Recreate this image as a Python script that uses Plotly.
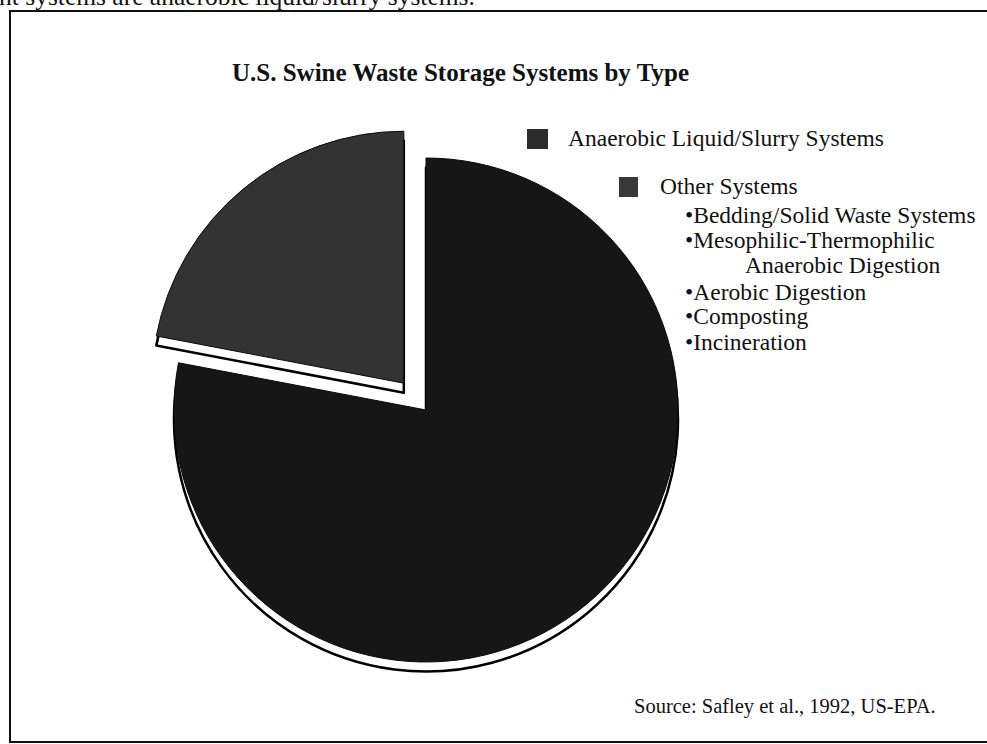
import plotly.graph_objects as go

# ---- data ----
categories = ["Anaerobic Liquid/Slurry Systems", "Other Systems"]
shares = [78, 22]
pull_out = [0, 0.138]
slice_colors = ["#161616", "#333333"]
other_items = ["•Bedding/Solid Waste Systems", "•Mesophilic-Thermophilic",
               "Anaerobic Digestion", "•Aerobic Digestion", "•Composting", "•Incineration"]
title_text = "U.S. Swine Waste Storage Systems by Type"
source_text = "Source: Safley et al., 1992, US-EPA."
top_text = "nt systems are anaerobic liquid/slurry systems."

W, H = 987, 744
SERIF = "Liberation Serif, Times New Roman, serif"


def px(x):
    return x / W


def py(y):
    return 1 - y / H


# pie geometry (pixels)
cx, cy, r = 426, 410, 252
half = r * (1 + max(pull_out))
shadow_dy = 9.5

fig = go.Figure()

# shadow (drawn first, behind)
fig.add_trace(go.Pie(
    labels=categories, values=shares, pull=pull_out, sort=False,
    direction="clockwise", rotation=0, textinfo="none", hoverinfo="skip",
    marker=dict(colors=["white", "white"], line=dict(color="#000000", width=2.5)),
    domain=dict(x=[px(cx - half), px(cx + half)],
                y=[py(cy + half + shadow_dy), py(cy - half + shadow_dy)]),
    showlegend=False,
))

fig.add_trace(go.Pie(
    labels=categories, values=shares, pull=pull_out, sort=False,
    direction="clockwise", rotation=0, textinfo="none",
    marker=dict(colors=slice_colors, line=dict(color="#0a0a0a", width=1)),
    domain=dict(x=[px(cx - half), px(cx + half)],
                y=[py(cy + half), py(cy - half)]),
    showlegend=False,
))

shapes = [
    # frame
    dict(type="rect", xref="paper", yref="paper", x0=px(10), x1=px(992),
         y0=py(742), y1=py(11), line=dict(color="#111111", width=2), fillcolor="rgba(0,0,0,0)"),
    # legend swatches
    dict(type="rect", xref="paper", yref="paper", x0=px(527), x1=px(548),
         y0=py(149), y1=py(129), line=dict(width=0), fillcolor="#2c2c2c"),
    dict(type="rect", xref="paper", yref="paper", x0=px(619), x1=px(638),
         y0=py(197), y1=py(177), line=dict(width=0), fillcolor="#383838"),
]

ann = []


def add_text(txt, x, y_mid, size, bold=False, anchor="left"):
    ann.append(dict(text=(f"<b>{txt}</b>" if bold else txt), xref="paper", yref="paper",
                    x=px(x), y=py(y_mid), xanchor=anchor, yanchor="middle",
                    showarrow=False, font=dict(family=SERIF, size=size, color="#111111")))


add_text(top_text, -3, -3, 25.5)
add_text(title_text, 460, 72, 25, bold=True, anchor="center")
add_text(categories[0], 566, 138, 23.5)
add_text(categories[1], 658, 186, 23.5)
bullet_x = [683, 683, 743, 683, 683, 683]
bullet_y = [215, 240, 265, 292, 316, 342]
for t, bx, by in zip(other_items, bullet_x, bullet_y):
    add_text(t, bx, by, 23.5)
add_text(source_text, 632, 706, 20.5)

fig.update_layout(
    width=W, height=H, margin=dict(l=0, r=0, t=0, b=0),
    paper_bgcolor="white", plot_bgcolor="white",
    shapes=shapes, annotations=ann, showlegend=False,
)

fig.write_html("out.html")
